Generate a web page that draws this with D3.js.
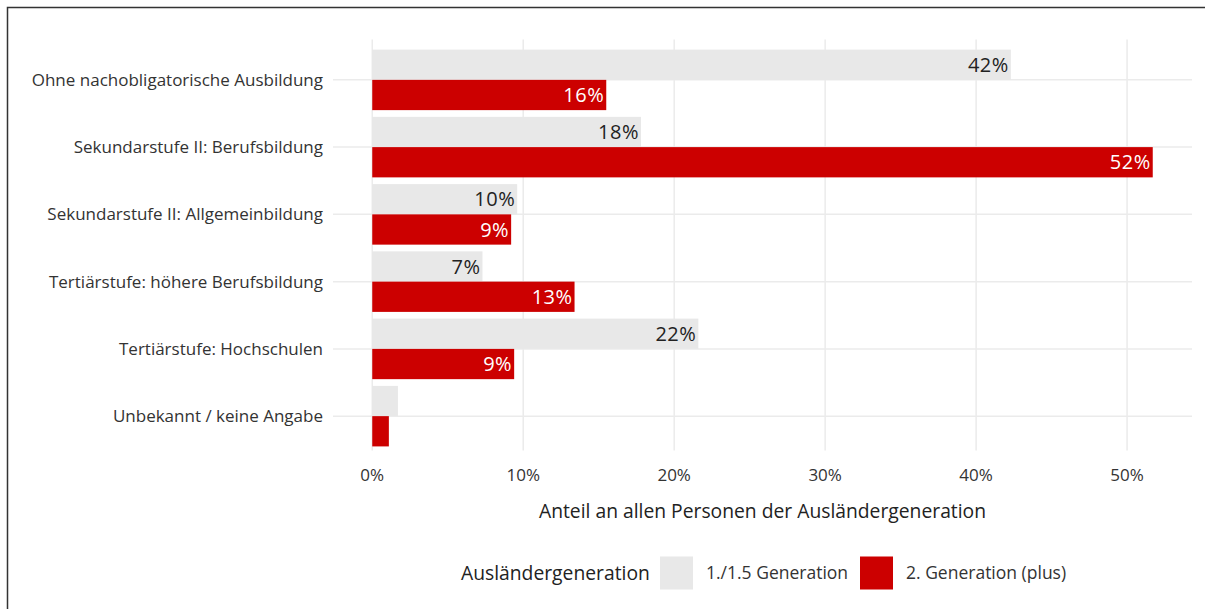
<!DOCTYPE html>
<html>
<head>
<meta charset="utf-8">
<script src="https://cdn.jsdelivr.net/npm/d3@7"></script>
<style>
  body { margin: 0; background: #fff; }
  text { font-family: "Open Sans", "Noto Sans", sans-serif; }
</style>
</head>
<body>
<svg></svg>
<script>
const categories = [
  'Ohne nachobligatorische Ausbildung',
  'Sekundarstufe II: Berufsbildung',
  'Sekundarstufe II: Allgemeinbildung',
  'Tertiärstufe: höhere Berufsbildung',
  'Tertiärstufe: Hochschulen',
  'Unbekannt / keine Angabe'
]
const seriesNames = ['1./1.5 Generation', '2. Generation (plus)']
const gen1 = [42.3, 17.8, 9.6, 7.3, 21.6, 1.7]
const gen2 = [15.5, 51.7, 9.2, 13.4, 9.4, 1.1]
const xTicks = [0, 10, 20, 30, 40, 50]
const colors = ['#e8e8e8', '#cc0000']

const width = 1205
const height = 609

const svg = d3.select('svg')
  .attr('width', width)
  .attr('height', height)

// frame
svg.append('path')
  .attr('d', `M7.5,${height} V7.5 H${width}`)
  .attr('fill', 'none')
  .attr('stroke', '#333')
  .attr('stroke-width', 1.5)

const panel = { left: 333, right: 1192, top: 39.5, bottom: 456.5 }

const x = d3.scaleLinear().domain([-2.6, 54.3]).range([panel.left, panel.right])
const y = d3.scaleBand().domain(categories).range([panel.top, panel.bottom])
  .paddingInner(0.1).paddingOuter(0.15)
const ySub = d3.scaleBand().domain(seriesNames).range([0, y.bandwidth()])

const data = categories.map((c, i) => ({ cat: c, values: [gen1[i], gen2[i]] }))

const g = svg.append('g')

// grid
g.selectAll('.vgrid')
  .data(xTicks)
  .enter().append('line')
  .attr('x1', (d) => x(d)).attr('x2', (d) => x(d))
  .attr('y1', panel.top).attr('y2', panel.bottom - 6)
  .attr('stroke', '#ebebeb').attr('stroke-width', 1.5)

g.selectAll('.hgrid')
  .data(categories)
  .enter().append('line')
  .attr('x1', panel.left).attr('x2', panel.right)
  .attr('y1', (d) => y(d) + y.bandwidth() / 2).attr('y2', (d) => y(d) + y.bandwidth() / 2)
  .attr('stroke', '#ebebeb').attr('stroke-width', 1.5)

// bars
const rows = g.selectAll('.row')
  .data(data)
  .enter().append('g')
  .attr('transform', (d) => `translate(0, ${y(d.cat)})`)

rows.selectAll('rect')
  .data((d) => d.values.map((v, j) => ({ v, j })))
  .enter().append('rect')
  .attr('x', x(0))
  .attr('y', (d) => ySub(seriesNames[d.j]))
  .attr('width', (d) => x(d.v) - x(0))
  .attr('height', ySub.bandwidth())
  .attr('fill', (d) => colors[d.j])

rows.selectAll('.lab')
  .data((d, i) => i === categories.length - 1 ? [] : d.values.map((v, j) => ({ v, j })))
  .enter().append('text')
  .attr('x', (d) => x(d.v) - 2)
  .attr('y', (d) => ySub(seriesNames[d.j]) + ySub.bandwidth() / 2)
  .attr('dy', '0.36em')
  .attr('text-anchor', 'end')
  .attr('font-size', 20)
  .attr('letter-spacing', 0.5)
  .attr('fill', (d) => d.j === 0 ? '#222' : '#fff')
  .text((d) => Math.round(d.v) + '%')

// y labels
g.selectAll('.ylab')
  .data(categories)
  .enter().append('text')
  .attr('x', panel.left - 10)
  .attr('y', (d) => y(d) + y.bandwidth() / 2)
  .attr('dy', '0.36em')
  .attr('text-anchor', 'end')
  .attr('font-size', 17)
  .attr('fill', '#333')
  .text((d) => d)

// x labels
g.selectAll('.xlab')
  .data(xTicks)
  .enter().append('text')
  .attr('x', (d) => x(d))
  .attr('y', 475)
  .attr('dy', '0.36em')
  .attr('text-anchor', 'middle')
  .attr('font-size', 17)
  .attr('fill', '#333')
  .text((d) => d + '%')

svg.append('text')
  .attr('x', (panel.left + panel.right) / 2)
  .attr('y', 511)
  .attr('dy', '0.36em')
  .attr('text-anchor', 'middle')
  .attr('font-size', 19.3)
  .attr('fill', '#222')
  .text('Anteil an allen Personen der Ausländergeneration')

// legend
const legend = svg.append('g').attr('transform', 'translate(0, 573)')
legend.append('text')
  .attr('x', 461).attr('dy', '0.36em')
  .attr('font-size', 19.3).attr('fill', '#222')
  .text('Ausländergeneration')

const keyX = [660, 860]
seriesNames.forEach((s, j) => {
  legend.append('rect')
    .attr('x', keyX[j]).attr('y', -16.5)
    .attr('width', 33).attr('height', 33)
    .attr('fill', colors[j])
  legend.append('text')
    .attr('x', keyX[j] + 46).attr('dy', '0.36em')
    .attr('font-size', 17.5).attr('fill', '#333')
    .text(s)
})
</script>
</body>
</html>
